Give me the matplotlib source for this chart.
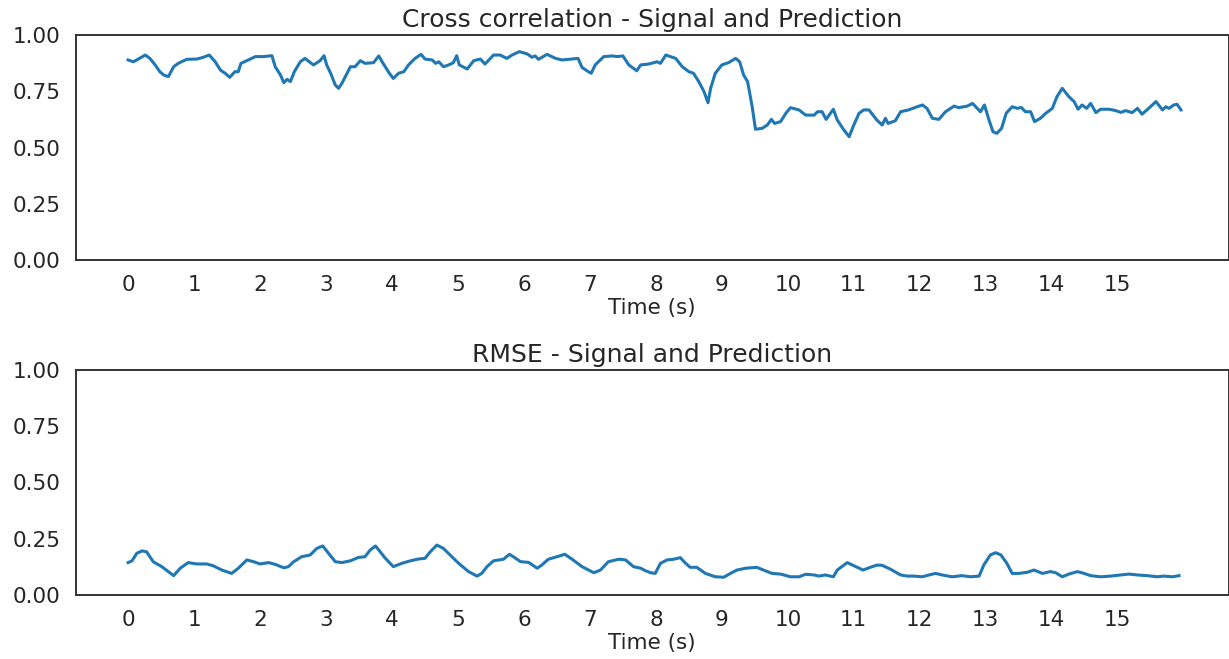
import matplotlib
matplotlib.use("Agg")
import matplotlib.pyplot as plt
from matplotlib.ticker import FormatStrFormatter

# Sliding-window cross correlation between signal and prediction
t_xcorr = [0.00, 0.08, 0.13, 0.26, 0.33, 0.41, 0.48, 0.54, 0.61, 0.69, 0.76, 0.89,
           1.04, 1.14, 1.23, 1.32, 1.40, 1.47, 1.54, 1.62, 1.67, 1.71, 1.80, 1.93,
           2.05, 2.18, 2.23, 2.31, 2.36, 2.41, 2.46, 2.52, 2.61, 2.68, 2.81, 2.91,
           2.97, 3.01, 3.07, 3.14, 3.19, 3.24, 3.32, 3.37, 3.44, 3.52, 3.59, 3.72,
           3.80, 3.85, 3.96, 4.02, 4.10, 4.18, 4.25, 4.35, 4.44, 4.50, 4.61, 4.66,
           4.71, 4.78, 4.86, 4.93, 4.98, 5.02, 5.14, 5.24, 5.34, 5.41, 5.54, 5.64,
           5.74, 5.82, 5.93, 6.05, 6.12, 6.17, 6.22, 6.35, 6.48, 6.58, 6.68, 6.82,
           6.88, 6.96, 7.02, 7.08, 7.21, 7.34, 7.41, 7.50, 7.59, 7.71, 7.77, 7.89,
           8.02, 8.07, 8.15, 8.30, 8.40, 8.50, 8.57, 8.65, 8.73, 8.79, 8.83, 8.90,
           9.00, 9.10, 9.21, 9.27, 9.33, 9.39, 9.46, 9.51, 9.61, 9.69, 9.75, 9.80,
           9.89, 9.97, 10.04, 10.17, 10.27, 10.40, 10.45, 10.52, 10.58, 10.69, 10.75,
           10.85, 10.93, 11.00, 11.08, 11.15, 11.23, 11.35, 11.43, 11.48, 11.52, 11.63,
           11.71, 11.83, 11.96, 12.04, 12.11, 12.19, 12.29, 12.39, 12.52, 12.59, 12.72,
           12.80, 12.87, 12.92, 12.98, 13.05, 13.11, 13.17, 13.24, 13.31, 13.40, 13.48,
           13.54, 13.60, 13.68, 13.74, 13.83, 13.91, 14.01, 14.08, 14.16, 14.26, 14.34,
           14.40, 14.46, 14.53, 14.59, 14.67, 14.74, 14.87, 14.97, 15.05, 15.12, 15.22,
           15.30, 15.37, 15.47, 15.58, 15.68, 15.73, 15.78, 15.85, 15.90, 15.96]
xcorr = [0.889, 0.881, 0.889, 0.911, 0.896, 0.867, 0.837, 0.822, 0.815, 0.859, 0.874, 0.892,
         0.893, 0.901, 0.911, 0.881, 0.844, 0.830, 0.812, 0.837, 0.837, 0.874, 0.886, 0.904,
         0.904, 0.908, 0.859, 0.822, 0.788, 0.803, 0.793, 0.837, 0.881, 0.896, 0.867, 0.886,
         0.908, 0.867, 0.830, 0.778, 0.763, 0.785, 0.830, 0.859, 0.859, 0.886, 0.874, 0.877,
         0.907, 0.881, 0.830, 0.807, 0.830, 0.837, 0.867, 0.896, 0.914, 0.893, 0.889, 0.874,
         0.881, 0.859, 0.867, 0.877, 0.908, 0.867, 0.849, 0.886, 0.893, 0.871, 0.911, 0.911,
         0.896, 0.911, 0.926, 0.916, 0.901, 0.907, 0.892, 0.914, 0.896, 0.889, 0.892, 0.896,
         0.856, 0.840, 0.830, 0.867, 0.904, 0.907, 0.904, 0.907, 0.867, 0.841, 0.867, 0.871,
         0.881, 0.874, 0.911, 0.896, 0.859, 0.837, 0.830, 0.793, 0.748, 0.699, 0.763, 0.830,
         0.867, 0.877, 0.896, 0.881, 0.822, 0.793, 0.681, 0.581, 0.585, 0.600, 0.625, 0.607,
         0.615, 0.652, 0.677, 0.667, 0.644, 0.644, 0.659, 0.659, 0.625, 0.670, 0.622,
         0.578, 0.548, 0.600, 0.652, 0.667, 0.667, 0.622, 0.600, 0.630, 0.607, 0.619,
         0.659, 0.667, 0.681, 0.689, 0.674, 0.630, 0.625, 0.659, 0.684, 0.677, 0.684,
         0.696, 0.674, 0.659, 0.689, 0.622, 0.570, 0.563, 0.585, 0.652, 0.681, 0.674,
         0.678, 0.659, 0.659, 0.615, 0.630, 0.652, 0.674, 0.726, 0.763, 0.726, 0.704,
         0.670, 0.689, 0.674, 0.696, 0.655, 0.670, 0.670, 0.664, 0.656, 0.664, 0.655,
         0.674, 0.648, 0.674, 0.704, 0.667, 0.681, 0.674, 0.689, 0.692, 0.667]

# Sliding-window RMSE between signal and prediction
t_rmse = [0.00, 0.06, 0.13, 0.21, 0.28, 0.38, 0.51, 0.61, 0.69, 0.79, 0.91, 1.04,
          1.19, 1.29, 1.42, 1.57, 1.67, 1.80, 1.90, 2.00, 2.13, 2.23, 2.36, 2.43,
          2.51, 2.63, 2.76, 2.86, 2.95, 3.04, 3.14, 3.24, 3.37, 3.49, 3.59, 3.67,
          3.75, 3.82, 3.90, 4.02, 4.15, 4.28, 4.40, 4.50, 4.58, 4.68, 4.78, 4.88,
          5.01, 5.16, 5.29, 5.36, 5.44, 5.54, 5.69, 5.78, 5.84, 5.95, 6.07, 6.20,
          6.27, 6.37, 6.50, 6.62, 6.73, 6.88, 7.06, 7.16, 7.28, 7.44, 7.54, 7.66,
          7.77, 7.84, 7.92, 7.99, 8.07, 8.17, 8.27, 8.37, 8.45, 8.52, 8.62, 8.75,
          8.90, 9.03, 9.13, 9.23, 9.36, 9.53, 9.63, 9.76, 9.89, 10.04, 10.17, 10.27,
          10.40, 10.47, 10.57, 10.69, 10.75, 10.90, 11.03, 11.14, 11.25, 11.35, 11.43,
          11.56, 11.71, 11.81, 11.91, 12.04, 12.14, 12.24, 12.34, 12.49, 12.64, 12.77,
          12.90, 12.97, 13.07, 13.15, 13.23, 13.32, 13.40, 13.50, 13.63, 13.73, 13.86,
          13.98, 14.06, 14.16, 14.26, 14.39, 14.49, 14.59, 14.74, 14.89, 15.05, 15.17,
          15.30, 15.45, 15.60, 15.70, 15.83, 15.93]
rmse = [0.144, 0.152, 0.185, 0.196, 0.192, 0.148, 0.126, 0.104, 0.086, 0.119, 0.144, 0.138,
        0.138, 0.130, 0.111, 0.096, 0.119, 0.156, 0.148, 0.138, 0.144, 0.136, 0.121, 0.126,
        0.148, 0.170, 0.178, 0.207, 0.218, 0.185, 0.148, 0.144, 0.152, 0.167, 0.170, 0.200,
        0.218, 0.192, 0.163, 0.126, 0.141, 0.152, 0.160, 0.163, 0.192, 0.222, 0.207, 0.178,
        0.141, 0.104, 0.084, 0.096, 0.126, 0.152, 0.159, 0.181, 0.170, 0.148, 0.145, 0.119,
        0.133, 0.159, 0.170, 0.181, 0.159, 0.126, 0.099, 0.111, 0.148, 0.159, 0.156, 0.126,
        0.119, 0.108, 0.099, 0.096, 0.141, 0.156, 0.159, 0.166, 0.141, 0.123, 0.123, 0.096,
        0.081, 0.079, 0.096, 0.111, 0.119, 0.123, 0.111, 0.096, 0.093, 0.081, 0.081, 0.092,
        0.089, 0.084, 0.089, 0.081, 0.111, 0.144, 0.126, 0.111, 0.123, 0.133, 0.132,
        0.114, 0.089, 0.084, 0.084, 0.081, 0.089, 0.096, 0.089, 0.081, 0.086, 0.081,
        0.084, 0.133, 0.178, 0.188, 0.178, 0.141, 0.096, 0.096, 0.101, 0.111, 0.096,
        0.104, 0.099, 0.081, 0.093, 0.104, 0.096, 0.086, 0.081, 0.084, 0.089, 0.093,
        0.089, 0.086, 0.081, 0.084, 0.081, 0.086]

xticks = list(range(16))
yticks = [0.0, 0.25, 0.5, 0.75, 1.0]
titles = ["Cross correlation - Signal and Prediction", "RMSE - Signal and Prediction"]
xlabel = "Time (s)"

TEXT = "#262626"
plt.rcParams.update({
    "font.family": ["DejaVu Sans"],
    "text.color": TEXT,
    "axes.labelcolor": TEXT,
    "xtick.color": TEXT,
    "ytick.color": TEXT,
})

fig = plt.figure(figsize=(12.29, 6.59), dpi=100)
W, H = 1229, 659
axes = [
    fig.add_axes([76 / W, (H - 260) / H, (1228.5 - 76) / W, 225 / H]),
    fig.add_axes([76 / W, (H - 595) / H, (1228.5 - 76) / W, 225 / H]),
]

for ax, title, (tt, vv) in zip(axes, titles, [(t_xcorr, xcorr), (t_rmse, rmse)]):
    ax.plot(tt, vv, color="#1f77b4", lw=2.2)
    ax.set_xlim(-0.79, 16.68)
    ax.set_ylim(0, 1)
    ax.set_xticks(xticks)
    ax.set_yticks(yticks)
    ax.yaxis.set_major_formatter(FormatStrFormatter("%.2f"))
    ax.tick_params(axis="both", length=0, pad=11, labelsize=15.5)
    ax.set_title(title, fontsize=18, pad=6)
    ax.set_xlabel(xlabel, fontsize=15.5, labelpad=2)
    for sp in ax.spines.values():
        sp.set_color("#333333")
        sp.set_linewidth(1.4)

fig.savefig("out.png", dpi=100)
